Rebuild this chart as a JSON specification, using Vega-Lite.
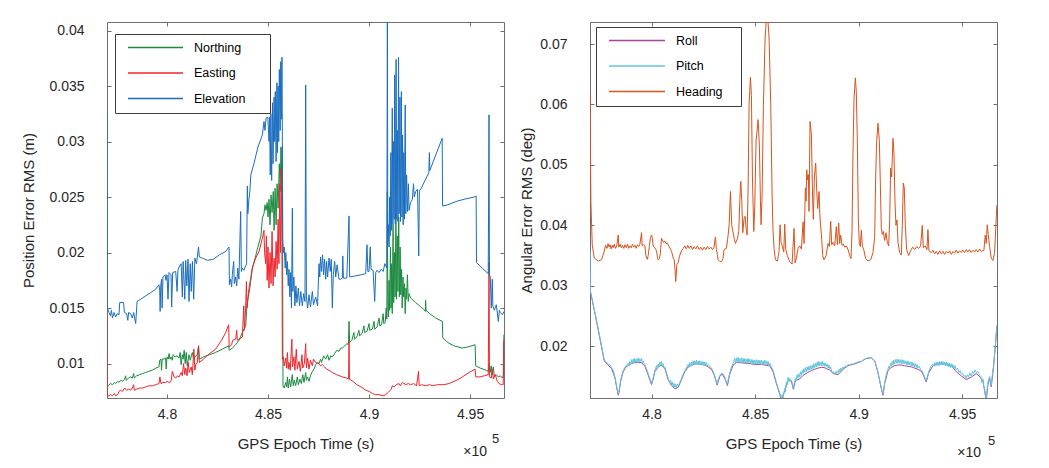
{
"$schema": "https://vega.github.io/schema/vega-lite/v6.json",
"background": "white",
"padding": {"left": 21, "top": 21, "right": 5, "bottom": 5},
"spacing": 14,
"datasets": {
"north": [
{"t":477030,"v":0.0081},{"t":477100,"v":0.0080},{"t":477200,"v":0.0082},{"t":477300,"v":0.0081},{"t":477400,"v":0.0083},{"t":477459,"v":0.0082},{"t":477550,"v":0.0084},{"t":477624,"v":0.0083},{"t":477700,"v":0.0085},{"t":477800,"v":0.0084},{"t":477900,"v":0.0086},{"t":477950,"v":0.0089},{"t":477980,"v":0.0085},{"t":478100,"v":0.0087},{"t":478200,"v":0.0088},{"t":478284,"v":0.0087},{"t":478350,"v":0.0091},{"t":478380,"v":0.0087},{"t":478500,"v":0.0089},{"t":478650,"v":0.0090},{"t":478800,"v":0.0091},{"t":478944,"v":0.0092},{"t":479100,"v":0.0093},{"t":479274,"v":0.0094},{"t":479450,"v":0.0096},{"t":479600,"v":0.0097},{"t":479640,"v":0.0103},{"t":479700,"v":0.0104},{"t":479730,"v":0.0094},{"t":479760,"v":0.0104},{"t":479850,"v":0.0104},{"t":479930,"v":0.0105},{"t":479960,"v":0.0095},{"t":480000,"v":0.0106},{"t":480060,"v":0.0104},{"t":480100,"v":0.0109},{"t":480150,"v":0.0104},{"t":480200,"v":0.0106},{"t":480264,"v":0.0103},{"t":480300,"v":0.0108},{"t":480400,"v":0.0106},{"t":480500,"v":0.0107},{"t":480594,"v":0.0105},{"t":480650,"v":0.0110},{"t":480700,"v":0.0099},{"t":480759,"v":0.0108},{"t":480800,"v":0.0104},{"t":480850,"v":0.0112},{"t":480900,"v":0.0100},{"t":480950,"v":0.0110},{"t":481000,"v":0.0098},{"t":481089,"v":0.0108},{"t":481150,"v":0.0103},{"t":481254,"v":0.0110},{"t":481320,"v":0.0104},{"t":481419,"v":0.0107},{"t":481500,"v":0.0108},{"t":481560,"v":0.0116},{"t":481600,"v":0.0104},{"t":481800,"v":0.0106},{"t":482100,"v":0.0108},{"t":482400,"v":0.0110},{"t":482739,"v":0.0113},{"t":483050,"v":0.0116},{"t":483080,"v":0.0112},{"t":483234,"v":0.0114},{"t":483399,"v":0.0117},{"t":483564,"v":0.0121},{"t":483729,"v":0.0128},{"t":483894,"v":0.0134},{"t":483950,"v":0.0150},{"t":484000,"v":0.0158},{"t":484100,"v":0.0168},{"t":484224,"v":0.0186},{"t":484389,"v":0.0197},{"t":484500,"v":0.0205},{"t":484650,"v":0.0215},{"t":484719,"v":0.0231},{"t":484800,"v":0.0235},{"t":484850,"v":0.0243},{"t":484900,"v":0.0238},{"t":484960,"v":0.0245},{"t":485000,"v":0.0232},{"t":485050,"v":0.0248},{"t":485100,"v":0.0225},{"t":485150,"v":0.0252},{"t":485200,"v":0.0236},{"t":485260,"v":0.0255},{"t":485300,"v":0.0220},{"t":485350,"v":0.0258},{"t":485400,"v":0.0225},{"t":485450,"v":0.0262},{"t":485500,"v":0.0240},{"t":485560,"v":0.0280},{"t":485600,"v":0.0255},{"t":485640,"v":0.0295},{"t":485680,"v":0.0270},{"t":485709,"v":0.0296},{"t":485740,"v":0.0080},{"t":485800,"v":0.0078},{"t":485874,"v":0.0083},{"t":485920,"v":0.0079},{"t":485960,"v":0.0088},{"t":486000,"v":0.0078},{"t":486060,"v":0.0086},{"t":486120,"v":0.0079},{"t":486200,"v":0.0090},{"t":486250,"v":0.0080},{"t":486300,"v":0.0085},{"t":486369,"v":0.0080},{"t":486450,"v":0.0088},{"t":486500,"v":0.0081},{"t":486580,"v":0.0086},{"t":486650,"v":0.0082},{"t":486720,"v":0.0090},{"t":486780,"v":0.0083},{"t":486864,"v":0.0092},{"t":486900,"v":0.0085},{"t":486960,"v":0.0088},{"t":487029,"v":0.0084},{"t":487100,"v":0.0089},{"t":487200,"v":0.0093},{"t":487300,"v":0.0096},{"t":487359,"v":0.0099},{"t":487450,"v":0.0101},{"t":487524,"v":0.0100},{"t":487600,"v":0.0104},{"t":487650,"v":0.0101},{"t":487750,"v":0.0107},{"t":487854,"v":0.0104},{"t":487950,"v":0.0108},{"t":488019,"v":0.0103},{"t":488100,"v":0.0107},{"t":488184,"v":0.0106},{"t":488300,"v":0.0109},{"t":488400,"v":0.0112},{"t":488514,"v":0.0111},{"t":488600,"v":0.0114},{"t":488679,"v":0.0114},{"t":488800,"v":0.0116},{"t":488900,"v":0.0118},{"t":488980,"v":0.0117},{"t":489009,"v":0.0138},{"t":489040,"v":0.0119},{"t":489150,"v":0.0121},{"t":489250,"v":0.0128},{"t":489280,"v":0.0122},{"t":489400,"v":0.0124},{"t":489500,"v":0.0130},{"t":489530,"v":0.0125},{"t":489650,"v":0.0127},{"t":489750,"v":0.0134},{"t":489780,"v":0.0128},{"t":489900,"v":0.0129},{"t":490000,"v":0.0136},{"t":490030,"v":0.0130},{"t":490164,"v":0.0131},{"t":490250,"v":0.0138},{"t":490280,"v":0.0131},{"t":490400,"v":0.0133},{"t":490500,"v":0.0141},{"t":490530,"v":0.0134},{"t":490620,"v":0.0135},{"t":490700,"v":0.0145},{"t":490730,"v":0.0136},{"t":490800,"v":0.0137},{"t":490850,"v":0.0150},{"t":490880,"v":0.0140},{"t":490907,"v":0.0254},{"t":490930,"v":0.0150},{"t":490960,"v":0.0142},{"t":490990,"v":0.0175},{"t":491020,"v":0.0148},{"t":491060,"v":0.0205},{"t":491090,"v":0.0150},{"t":491120,"v":0.0190},{"t":491150,"v":0.0145},{"t":491190,"v":0.0225},{"t":491220,"v":0.0155},{"t":491260,"v":0.0200},{"t":491290,"v":0.0160},{"t":491330,"v":0.0235},{"t":491360,"v":0.0158},{"t":491400,"v":0.0215},{"t":491430,"v":0.0165},{"t":491470,"v":0.0232},{"t":491500,"v":0.0160},{"t":491540,"v":0.0205},{"t":491570,"v":0.0162},{"t":491610,"v":0.0185},{"t":491640,"v":0.0150},{"t":491680,"v":0.0178},{"t":491710,"v":0.0160},{"t":491750,"v":0.0172},{"t":491790,"v":0.0145},{"t":491830,"v":0.0168},{"t":491860,"v":0.0158},{"t":491900,"v":0.0180},{"t":491940,"v":0.0156},{"t":491980,"v":0.0163},{"t":492062,"v":0.0159},{"t":492300,"v":0.0155},{"t":492500,"v":0.0152},{"t":492700,"v":0.0149},{"t":492790,"v":0.0147},{"t":492800,"v":0.0157},{"t":492820,"v":0.0148},{"t":493000,"v":0.0145},{"t":493300,"v":0.0141},{"t":493629,"v":0.0138},{"t":493650,"v":0.0123},{"t":493900,"v":0.0119},{"t":494200,"v":0.0116},{"t":494619,"v":0.0114},{"t":494900,"v":0.0115},{"t":495250,"v":0.0117},{"t":495280,"v":0.0098},{"t":495500,"v":0.0096},{"t":495800,"v":0.0094},{"t":495900,"v":0.0093},{"t":495950,"v":0.0100},{"t":496000,"v":0.0092},{"t":496050,"v":0.0098},{"t":496100,"v":0.0090},{"t":496150,"v":0.0097},{"t":496200,"v":0.0089},{"t":496300,"v":0.0090},{"t":496400,"v":0.0088},{"t":496500,"v":0.0089},{"t":496599,"v":0.0087},{"t":496650,"v":0.0089},{"t":496675,"v":0.0126}
],
"east": [
{"t":477030,"v":0.0143},{"t":477045,"v":0.0071},{"t":477129,"v":0.0071},{"t":477200,"v":0.0072},{"t":477300,"v":0.0071},{"t":477400,"v":0.0073},{"t":477459,"v":0.0071},{"t":477560,"v":0.0072},{"t":477624,"v":0.0075},{"t":477700,"v":0.0076},{"t":477800,"v":0.0075},{"t":477900,"v":0.0078},{"t":478000,"v":0.0076},{"t":478100,"v":0.0077},{"t":478200,"v":0.0076},{"t":478284,"v":0.0078},{"t":478350,"v":0.0081},{"t":478380,"v":0.0076},{"t":478500,"v":0.0077},{"t":478650,"v":0.0078},{"t":478800,"v":0.0078},{"t":478944,"v":0.0079},{"t":479100,"v":0.0080},{"t":479274,"v":0.0080},{"t":479439,"v":0.0081},{"t":479604,"v":0.0082},{"t":479650,"v":0.0088},{"t":479700,"v":0.0082},{"t":479800,"v":0.0083},{"t":479934,"v":0.0083},{"t":480000,"v":0.0084},{"t":480099,"v":0.0083},{"t":480200,"v":0.0084},{"t":480264,"v":0.0093},{"t":480350,"v":0.0088},{"t":480429,"v":0.0087},{"t":480520,"v":0.0089},{"t":480594,"v":0.0088},{"t":480700,"v":0.0092},{"t":480759,"v":0.0089},{"t":480820,"v":0.0100},{"t":480880,"v":0.0090},{"t":480924,"v":0.0096},{"t":480990,"v":0.0089},{"t":481050,"v":0.0101},{"t":481100,"v":0.0092},{"t":481200,"v":0.0097},{"t":481254,"v":0.0090},{"t":481330,"v":0.0113},{"t":481380,"v":0.0094},{"t":481419,"v":0.0099},{"t":481500,"v":0.0101},{"t":481560,"v":0.0116},{"t":481600,"v":0.0101},{"t":481800,"v":0.0104},{"t":482100,"v":0.0109},{"t":482409,"v":0.0113},{"t":482700,"v":0.0121},{"t":482904,"v":0.0128},{"t":483050,"v":0.0135},{"t":483080,"v":0.0115},{"t":483200,"v":0.0117},{"t":483250,"v":0.0121},{"t":483400,"v":0.0122},{"t":483450,"v":0.0130},{"t":483480,"v":0.0121},{"t":483600,"v":0.0122},{"t":483729,"v":0.0124},{"t":483800,"v":0.0152},{"t":483830,"v":0.0130},{"t":483894,"v":0.0151},{"t":483930,"v":0.0174},{"t":483960,"v":0.0150},{"t":484059,"v":0.0168},{"t":484224,"v":0.0186},{"t":484389,"v":0.0195},{"t":484554,"v":0.0201},{"t":484719,"v":0.0213},{"t":484800,"v":0.0220},{"t":484830,"v":0.0200},{"t":484884,"v":0.0190},{"t":484920,"v":0.0215},{"t":484960,"v":0.0175},{"t":485000,"v":0.0205},{"t":485049,"v":0.0168},{"t":485100,"v":0.0200},{"t":485150,"v":0.0172},{"t":485200,"v":0.0219},{"t":485250,"v":0.0170},{"t":485300,"v":0.0195},{"t":485350,"v":0.0178},{"t":485400,"v":0.0210},{"t":485450,"v":0.0185},{"t":485500,"v":0.0230},{"t":485540,"v":0.0190},{"t":485580,"v":0.0262},{"t":485620,"v":0.0200},{"t":485660,"v":0.0276},{"t":485690,"v":0.0210},{"t":485709,"v":0.0104},{"t":485760,"v":0.0106},{"t":485800,"v":0.0098},{"t":485874,"v":0.0105},{"t":485920,"v":0.0096},{"t":485960,"v":0.0110},{"t":486000,"v":0.0095},{"t":486039,"v":0.0101},{"t":486100,"v":0.0094},{"t":486180,"v":0.0122},{"t":486210,"v":0.0097},{"t":486280,"v":0.0106},{"t":486330,"v":0.0094},{"t":486400,"v":0.0113},{"t":486450,"v":0.0095},{"t":486534,"v":0.0102},{"t":486600,"v":0.0093},{"t":486680,"v":0.0108},{"t":486720,"v":0.0096},{"t":486800,"v":0.0100},{"t":486864,"v":0.0118},{"t":486900,"v":0.0096},{"t":486960,"v":0.0105},{"t":487029,"v":0.0095},{"t":487100,"v":0.0103},{"t":487194,"v":0.0098},{"t":487250,"v":0.0104},{"t":487359,"v":0.0101},{"t":487450,"v":0.0100},{"t":487524,"v":0.0100},{"t":487600,"v":0.0098},{"t":487689,"v":0.0099},{"t":487800,"v":0.0097},{"t":487900,"v":0.0095},{"t":488019,"v":0.0094},{"t":488184,"v":0.0092},{"t":488400,"v":0.0090},{"t":488679,"v":0.0088},{"t":488900,"v":0.0087},{"t":488990,"v":0.0086},{"t":489009,"v":0.0120},{"t":489030,"v":0.0086},{"t":489200,"v":0.0084},{"t":489400,"v":0.0081},{"t":489600,"v":0.0079},{"t":489834,"v":0.0076},{"t":490000,"v":0.0075},{"t":490164,"v":0.0073},{"t":490329,"v":0.0072},{"t":490500,"v":0.0072},{"t":490700,"v":0.0071},{"t":490824,"v":0.0072},{"t":490950,"v":0.0074},{"t":491100,"v":0.0077},{"t":491150,"v":0.0080},{"t":491250,"v":0.0079},{"t":491350,"v":0.0081},{"t":491484,"v":0.0082},{"t":491550,"v":0.0080},{"t":491650,"v":0.0083},{"t":491814,"v":0.0081},{"t":491950,"v":0.0082},{"t":492062,"v":0.0081},{"t":492200,"v":0.0082},{"t":492350,"v":0.0080},{"t":492450,"v":0.0093},{"t":492480,"v":0.0080},{"t":492600,"v":0.0081},{"t":492800,"v":0.0080},{"t":493000,"v":0.0081},{"t":493134,"v":0.0080},{"t":493400,"v":0.0081},{"t":493700,"v":0.0081},{"t":493959,"v":0.0082},{"t":494200,"v":0.0084},{"t":494450,"v":0.0086},{"t":494700,"v":0.0089},{"t":494950,"v":0.0092},{"t":495250,"v":0.0095},{"t":495280,"v":0.0088},{"t":495500,"v":0.0088},{"t":495700,"v":0.0089},{"t":495900,"v":0.0090},{"t":495939,"v":0.0191},{"t":495960,"v":0.0088},{"t":496050,"v":0.0087},{"t":496100,"v":0.0095},{"t":496150,"v":0.0086},{"t":496250,"v":0.0090},{"t":496350,"v":0.0084},{"t":496434,"v":0.0082},{"t":496550,"v":0.0081},{"t":496640,"v":0.0081},{"t":496670,"v":0.0121}
],
"elev": [
{"t":477030,"v":0.0325},{"t":477045,"v":0.0150},{"t":477129,"v":0.0146},{"t":477200,"v":0.0143},{"t":477250,"v":0.0148},{"t":477300,"v":0.0141},{"t":477380,"v":0.0146},{"t":477459,"v":0.0142},{"t":477540,"v":0.0145},{"t":477624,"v":0.0144},{"t":477660,"v":0.0155},{"t":477850,"v":0.0155},{"t":477890,"v":0.0146},{"t":478000,"v":0.0145},{"t":478060,"v":0.0139},{"t":478100,"v":0.0146},{"t":478200,"v":0.0145},{"t":478284,"v":0.0141},{"t":478350,"v":0.0146},{"t":478450,"v":0.0136},{"t":478520,"v":0.0156},{"t":478700,"v":0.0158},{"t":478944,"v":0.0161},{"t":479200,"v":0.0164},{"t":479440,"v":0.0167},{"t":479600,"v":0.0171},{"t":479640,"v":0.0166},{"t":479660,"v":0.0147},{"t":479690,"v":0.0170},{"t":479730,"v":0.0176},{"t":479760,"v":0.0150},{"t":479800,"v":0.0178},{"t":479900,"v":0.0180},{"t":479950,"v":0.0175},{"t":480000,"v":0.0180},{"t":480050,"v":0.0158},{"t":480100,"v":0.0182},{"t":480200,"v":0.0180},{"t":480230,"v":0.0151},{"t":480280,"v":0.0182},{"t":480430,"v":0.0183},{"t":480500,"v":0.0165},{"t":480540,"v":0.0184},{"t":480600,"v":0.0187},{"t":480700,"v":0.0190},{"t":480759,"v":0.0160},{"t":480800,"v":0.0192},{"t":480880,"v":0.0158},{"t":480924,"v":0.0193},{"t":480980,"v":0.0170},{"t":481040,"v":0.0194},{"t":481090,"v":0.0156},{"t":481150,"v":0.0190},{"t":481200,"v":0.0165},{"t":481260,"v":0.0192},{"t":481320,"v":0.0158},{"t":481380,"v":0.0195},{"t":481460,"v":0.0190},{"t":481560,"v":0.0205},{"t":481600,"v":0.0196},{"t":481750,"v":0.0195},{"t":482000,"v":0.0193},{"t":482300,"v":0.0194},{"t":482600,"v":0.0198},{"t":482900,"v":0.0201},{"t":483069,"v":0.0205},{"t":483090,"v":0.0171},{"t":483150,"v":0.0176},{"t":483200,"v":0.0169},{"t":483234,"v":0.0180},{"t":483300,"v":0.0192},{"t":483330,"v":0.0172},{"t":483399,"v":0.0178},{"t":483450,"v":0.0170},{"t":483500,"v":0.0186},{"t":483560,"v":0.0176},{"t":483646,"v":0.0237},{"t":483680,"v":0.0183},{"t":483729,"v":0.0186},{"t":483800,"v":0.0184},{"t":483894,"v":0.0188},{"t":483940,"v":0.0190},{"t":483976,"v":0.0260},{"t":484000,"v":0.0235},{"t":484060,"v":0.0249},{"t":484100,"v":0.0255},{"t":484150,"v":0.0270},{"t":484300,"v":0.0280},{"t":484500,"v":0.0295},{"t":484719,"v":0.0306},{"t":484800,"v":0.0318},{"t":484850,"v":0.0310},{"t":484900,"v":0.0321},{"t":484990,"v":0.0322},{"t":485050,"v":0.0300},{"t":485080,"v":0.0322},{"t":485110,"v":0.0270},{"t":485140,"v":0.0325},{"t":485180,"v":0.0265},{"t":485220,"v":0.0335},{"t":485250,"v":0.0280},{"t":485300,"v":0.0340},{"t":485330,"v":0.0300},{"t":485360,"v":0.0345},{"t":485400,"v":0.0282},{"t":485440,"v":0.0353},{"t":485470,"v":0.0290},{"t":485500,"v":0.0350},{"t":485530,"v":0.0300},{"t":485560,"v":0.0365},{"t":485600,"v":0.0310},{"t":485630,"v":0.0372},{"t":485660,"v":0.0320},{"t":485690,"v":0.0376},{"t":485710,"v":0.0300},{"t":485730,"v":0.0210},{"t":485770,"v":0.0200},{"t":485800,"v":0.0205},{"t":485850,"v":0.0186},{"t":485880,"v":0.0200},{"t":485920,"v":0.0180},{"t":485960,"v":0.0192},{"t":486000,"v":0.0170},{"t":486039,"v":0.0185},{"t":486080,"v":0.0160},{"t":486120,"v":0.0182},{"t":486160,"v":0.0150},{"t":486204,"v":0.0240},{"t":486230,"v":0.0165},{"t":486280,"v":0.0178},{"t":486330,"v":0.0152},{"t":486380,"v":0.0170},{"t":486430,"v":0.0155},{"t":486500,"v":0.0168},{"t":486560,"v":0.0152},{"t":486620,"v":0.0165},{"t":486699,"v":0.0152},{"t":486760,"v":0.0163},{"t":486830,"v":0.0156},{"t":486864,"v":0.0351},{"t":486900,"v":0.0160},{"t":486960,"v":0.0150},{"t":487029,"v":0.0162},{"t":487100,"v":0.0151},{"t":487194,"v":0.0165},{"t":487250,"v":0.0153},{"t":487359,"v":0.0160},{"t":487450,"v":0.0152},{"t":487524,"v":0.0190},{"t":487560,"v":0.0178},{"t":487600,"v":0.0196},{"t":487650,"v":0.0183},{"t":487700,"v":0.0198},{"t":487750,"v":0.0180},{"t":487800,"v":0.0194},{"t":487854,"v":0.0176},{"t":487900,"v":0.0192},{"t":487950,"v":0.0178},{"t":488019,"v":0.0195},{"t":488080,"v":0.0183},{"t":488130,"v":0.0194},{"t":488184,"v":0.0150},{"t":488230,"v":0.0180},{"t":488300,"v":0.0192},{"t":488349,"v":0.0178},{"t":488420,"v":0.0189},{"t":488514,"v":0.0176},{"t":488600,"v":0.0176},{"t":488679,"v":0.0177},{"t":488700,"v":0.0197},{"t":488730,"v":0.0177},{"t":488900,"v":0.0177},{"t":489009,"v":0.0233},{"t":489040,"v":0.0178},{"t":489339,"v":0.0179},{"t":489600,"v":0.0180},{"t":489834,"v":0.0181},{"t":489900,"v":0.0207},{"t":489940,"v":0.0183},{"t":490000,"v":0.0183},{"t":490060,"v":0.0205},{"t":490100,"v":0.0185},{"t":490200,"v":0.0184},{"t":490280,"v":0.0156},{"t":490330,"v":0.0182},{"t":490400,"v":0.0184},{"t":490494,"v":0.0182},{"t":490600,"v":0.0185},{"t":490700,"v":0.0183},{"t":490780,"v":0.0190},{"t":490880,"v":0.0186},{"t":490907,"v":0.0409},{"t":490930,"v":0.0210},{"t":490960,"v":0.0225},{"t":490990,"v":0.0205},{"t":491020,"v":0.0250},{"t":491050,"v":0.0215},{"t":491080,"v":0.0290},{"t":491110,"v":0.0220},{"t":491150,"v":0.0330},{"t":491180,"v":0.0225},{"t":491210,"v":0.0300},{"t":491240,"v":0.0230},{"t":491270,"v":0.0360},{"t":491300,"v":0.0226},{"t":491340,"v":0.0374},{"t":491370,"v":0.0230},{"t":491400,"v":0.0310},{"t":491430,"v":0.0228},{"t":491460,"v":0.0376},{"t":491490,"v":0.0235},{"t":491530,"v":0.0340},{"t":491560,"v":0.0228},{"t":491600,"v":0.0345},{"t":491630,"v":0.0232},{"t":491660,"v":0.0306},{"t":491690,"v":0.0225},{"t":491720,"v":0.0290},{"t":491750,"v":0.0230},{"t":491790,"v":0.0333},{"t":491820,"v":0.0235},{"t":491860,"v":0.0270},{"t":491900,"v":0.0237},{"t":491950,"v":0.0262},{"t":491980,"v":0.0238},{"t":492050,"v":0.0245},{"t":492144,"v":0.0248},{"t":492200,"v":0.0262},{"t":492240,"v":0.0250},{"t":492309,"v":0.0255},{"t":492400,"v":0.0257},{"t":492460,"v":0.0197},{"t":492490,"v":0.0256},{"t":492560,"v":0.0257},{"t":492960,"v":0.0272},{"t":492986,"v":0.0290},{"t":493010,"v":0.0274},{"t":493620,"v":0.0303},{"t":493640,"v":0.0242},{"t":493900,"v":0.0243},{"t":494300,"v":0.0246},{"t":494700,"v":0.0248},{"t":495200,"v":0.0250},{"t":495300,"v":0.0251},{"t":495320,"v":0.0191},{"t":495600,"v":0.0186},{"t":495900,"v":0.0181},{"t":495939,"v":0.0324},{"t":495960,"v":0.0180},{"t":496000,"v":0.0178},{"t":496050,"v":0.0150},{"t":496100,"v":0.0176},{"t":496130,"v":0.0152},{"t":496200,"v":0.0148},{"t":496300,"v":0.0153},{"t":496400,"v":0.0138},{"t":496450,"v":0.0148},{"t":496500,"v":0.0146},{"t":496600,"v":0.0144},{"t":496680,"v":0.0147}
],
"roll": [
{"t":477030,"v":0.0290},{"t":477073,"v":0.0287},{"t":477400,"v":0.0232},{"t":477717,"v":0.0176},{"t":477878,"v":0.0170},{"t":478070,"v":0.0163},{"t":478231,"v":0.0148},{"t":478312,"v":0.0133},{"t":478392,"v":0.0119},{"t":478440,"v":0.0126},{"t":478521,"v":0.0144},{"t":478633,"v":0.0158},{"t":478746,"v":0.0165},{"t":478874,"v":0.0168},{"t":479035,"v":0.0172},{"t":479196,"v":0.0173},{"t":479357,"v":0.0173},{"t":479518,"v":0.0173},{"t":479678,"v":0.0167},{"t":479807,"v":0.0156},{"t":479920,"v":0.0144},{"t":480000,"v":0.0137},{"t":480080,"v":0.0146},{"t":480161,"v":0.0158},{"t":480322,"v":0.0166},{"t":480482,"v":0.0169},{"t":480643,"v":0.0163},{"t":480804,"v":0.0145},{"t":480965,"v":0.0135},{"t":481126,"v":0.0130},{"t":481286,"v":0.0132},{"t":481447,"v":0.0145},{"t":481608,"v":0.0158},{"t":481769,"v":0.0166},{"t":481930,"v":0.0169},{"t":482090,"v":0.0171},{"t":482251,"v":0.0171},{"t":482412,"v":0.0170},{"t":482572,"v":0.0169},{"t":482734,"v":0.0166},{"t":482894,"v":0.0162},{"t":483023,"v":0.0153},{"t":483168,"v":0.0136},{"t":483296,"v":0.0150},{"t":483409,"v":0.0154},{"t":483538,"v":0.0147},{"t":483666,"v":0.0135},{"t":483779,"v":0.0154},{"t":483940,"v":0.0169},{"t":484100,"v":0.0173},{"t":484342,"v":0.0173},{"t":484502,"v":0.0172},{"t":484663,"v":0.0172},{"t":484824,"v":0.0171},{"t":484985,"v":0.0170},{"t":485146,"v":0.0170},{"t":485306,"v":0.0170},{"t":485467,"v":0.0169},{"t":485628,"v":0.0168},{"t":485708,"v":0.0168},{"t":485869,"v":0.0158},{"t":486030,"v":0.0138},{"t":486191,"v":0.0121},{"t":486271,"v":0.0110},{"t":486432,"v":0.0127},{"t":486593,"v":0.0144},{"t":486754,"v":0.0142},{"t":486850,"v":0.0129},{"t":486947,"v":0.0143},{"t":487156,"v":0.0146},{"t":487316,"v":0.0152},{"t":487557,"v":0.0157},{"t":487718,"v":0.0160},{"t":487879,"v":0.0162},{"t":488040,"v":0.0164},{"t":488201,"v":0.0165},{"t":488329,"v":0.0165},{"t":488442,"v":0.0163},{"t":488603,"v":0.0161},{"t":488764,"v":0.0155},{"t":489005,"v":0.0153},{"t":489246,"v":0.0162},{"t":489487,"v":0.0168},{"t":489809,"v":0.0171},{"t":490130,"v":0.0175},{"t":490371,"v":0.0180},{"t":490612,"v":0.0181},{"t":490774,"v":0.0176},{"t":490934,"v":0.0156},{"t":491095,"v":0.0130},{"t":491175,"v":0.0119},{"t":491256,"v":0.0138},{"t":491417,"v":0.0160},{"t":491578,"v":0.0165},{"t":491738,"v":0.0168},{"t":491899,"v":0.0169},{"t":492060,"v":0.0169},{"t":492220,"v":0.0168},{"t":492381,"v":0.0167},{"t":492542,"v":0.0166},{"t":492703,"v":0.0164},{"t":492864,"v":0.0162},{"t":492992,"v":0.0160},{"t":493105,"v":0.0154},{"t":493266,"v":0.0141},{"t":493379,"v":0.0156},{"t":493588,"v":0.0168},{"t":493829,"v":0.0171},{"t":494150,"v":0.0171},{"t":494472,"v":0.0168},{"t":494713,"v":0.0158},{"t":494954,"v":0.0151},{"t":495196,"v":0.0145},{"t":495437,"v":0.0149},{"t":495678,"v":0.0155},{"t":495839,"v":0.0150},{"t":496000,"v":0.0143},{"t":496080,"v":0.0127},{"t":496160,"v":0.0110},{"t":496241,"v":0.0137},{"t":496321,"v":0.0148},{"t":496402,"v":0.0133},{"t":496514,"v":0.0166},{"t":496595,"v":0.0198},{"t":496675,"v":0.0233}
],
"pitch": [
{"t":477030,"v":0.0358},{"t":477050,"v":0.0290},{"t":477073,"v":0.0288},{"t":477400,"v":0.0234},{"t":477717,"v":0.0178},{"t":477781,"v":0.0174},{"t":477878,"v":0.0172},{"t":477990,"v":0.0169},{"t":478070,"v":0.0165},{"t":478151,"v":0.0160},{"t":478231,"v":0.0150},{"t":478312,"v":0.0135},{"t":478392,"v":0.0121},{"t":478440,"v":0.0128},{"t":478521,"v":0.0146},{"t":478633,"v":0.0160},{"t":478746,"v":0.0167},{"t":478874,"v":0.0172},{"t":478915,"v":0.0167},{"t":478955,"v":0.0175},{"t":478995,"v":0.0170},{"t":479035,"v":0.0178},{"t":479075,"v":0.0172},{"t":479116,"v":0.0179},{"t":479156,"v":0.0173},{"t":479196,"v":0.0180},{"t":479236,"v":0.0174},{"t":479276,"v":0.0179},{"t":479316,"v":0.0173},{"t":479357,"v":0.0181},{"t":479397,"v":0.0174},{"t":479437,"v":0.0179},{"t":479477,"v":0.0175},{"t":479518,"v":0.0180},{"t":479560,"v":0.0173},{"t":479598,"v":0.0176},{"t":479640,"v":0.0171},{"t":479678,"v":0.0170},{"t":479807,"v":0.0158},{"t":479920,"v":0.0146},{"t":480000,"v":0.0139},{"t":480080,"v":0.0148},{"t":480161,"v":0.0160},{"t":480241,"v":0.0168},{"t":480282,"v":0.0163},{"t":480322,"v":0.0171},{"t":480362,"v":0.0166},{"t":480402,"v":0.0174},{"t":480442,"v":0.0168},{"t":480482,"v":0.0175},{"t":480522,"v":0.0167},{"t":480563,"v":0.0171},{"t":480603,"v":0.0164},{"t":480643,"v":0.0166},{"t":480724,"v":0.0156},{"t":480804,"v":0.0147},{"t":480844,"v":0.0143},{"t":480884,"v":0.0140},{"t":480924,"v":0.0144},{"t":480965,"v":0.0136},{"t":481005,"v":0.0141},{"t":481045,"v":0.0133},{"t":481085,"v":0.0139},{"t":481126,"v":0.0132},{"t":481166,"v":0.0137},{"t":481206,"v":0.0131},{"t":481246,"v":0.0138},{"t":481286,"v":0.0134},{"t":481367,"v":0.0140},{"t":481447,"v":0.0147},{"t":481608,"v":0.0160},{"t":481689,"v":0.0165},{"t":481769,"v":0.0170},{"t":481810,"v":0.0165},{"t":481850,"v":0.0173},{"t":481890,"v":0.0167},{"t":481930,"v":0.0174},{"t":481970,"v":0.0168},{"t":482010,"v":0.0176},{"t":482050,"v":0.0170},{"t":482090,"v":0.0176},{"t":482130,"v":0.0170},{"t":482170,"v":0.0177},{"t":482210,"v":0.0170},{"t":482251,"v":0.0176},{"t":482291,"v":0.0170},{"t":482332,"v":0.0176},{"t":482372,"v":0.0169},{"t":482412,"v":0.0175},{"t":482452,"v":0.0169},{"t":482492,"v":0.0175},{"t":482532,"v":0.0169},{"t":482572,"v":0.0174},{"t":482613,"v":0.0168},{"t":482653,"v":0.0173},{"t":482694,"v":0.0167},{"t":482734,"v":0.0170},{"t":482814,"v":0.0167},{"t":482894,"v":0.0164},{"t":483023,"v":0.0155},{"t":483100,"v":0.0145},{"t":483168,"v":0.0138},{"t":483230,"v":0.0146},{"t":483296,"v":0.0152},{"t":483409,"v":0.0156},{"t":483470,"v":0.0154},{"t":483538,"v":0.0149},{"t":483600,"v":0.0142},{"t":483666,"v":0.0137},{"t":483720,"v":0.0148},{"t":483779,"v":0.0156},{"t":483860,"v":0.0166},{"t":483940,"v":0.0172},{"t":484020,"v":0.0180},{"t":484060,"v":0.0172},{"t":484100,"v":0.0181},{"t":484140,"v":0.0173},{"t":484181,"v":0.0182},{"t":484220,"v":0.0173},{"t":484260,"v":0.0180},{"t":484300,"v":0.0172},{"t":484342,"v":0.0181},{"t":484380,"v":0.0174},{"t":484420,"v":0.0180},{"t":484460,"v":0.0172},{"t":484502,"v":0.0180},{"t":484540,"v":0.0173},{"t":484580,"v":0.0179},{"t":484620,"v":0.0172},{"t":484663,"v":0.0180},{"t":484700,"v":0.0173},{"t":484740,"v":0.0179},{"t":484780,"v":0.0172},{"t":484824,"v":0.0178},{"t":484860,"v":0.0171},{"t":484900,"v":0.0178},{"t":484940,"v":0.0171},{"t":484985,"v":0.0177},{"t":485020,"v":0.0171},{"t":485060,"v":0.0178},{"t":485100,"v":0.0171},{"t":485146,"v":0.0177},{"t":485190,"v":0.0171},{"t":485230,"v":0.0177},{"t":485270,"v":0.0170},{"t":485306,"v":0.0177},{"t":485350,"v":0.0170},{"t":485390,"v":0.0176},{"t":485430,"v":0.0170},{"t":485467,"v":0.0177},{"t":485510,"v":0.0170},{"t":485550,"v":0.0176},{"t":485590,"v":0.0169},{"t":485628,"v":0.0175},{"t":485670,"v":0.0168},{"t":485708,"v":0.0172},{"t":485790,"v":0.0166},{"t":485869,"v":0.0160},{"t":485950,"v":0.0150},{"t":486030,"v":0.0140},{"t":486110,"v":0.0131},{"t":486191,"v":0.0123},{"t":486230,"v":0.0118},{"t":486271,"v":0.0112},{"t":486300,"v":0.0120},{"t":486350,"v":0.0115},{"t":486432,"v":0.0130},{"t":486470,"v":0.0125},{"t":486510,"v":0.0141},{"t":486550,"v":0.0136},{"t":486593,"v":0.0149},{"t":486640,"v":0.0142},{"t":486680,"v":0.0147},{"t":486754,"v":0.0144},{"t":486850,"v":0.0131},{"t":486900,"v":0.0140},{"t":486947,"v":0.0147},{"t":486990,"v":0.0143},{"t":487030,"v":0.0153},{"t":487075,"v":0.0147},{"t":487115,"v":0.0155},{"t":487156,"v":0.0149},{"t":487200,"v":0.0158},{"t":487240,"v":0.0152},{"t":487280,"v":0.0160},{"t":487316,"v":0.0155},{"t":487360,"v":0.0163},{"t":487400,"v":0.0157},{"t":487440,"v":0.0165},{"t":487480,"v":0.0158},{"t":487520,"v":0.0166},{"t":487557,"v":0.0160},{"t":487600,"v":0.0167},{"t":487640,"v":0.0161},{"t":487680,"v":0.0168},{"t":487718,"v":0.0162},{"t":487760,"v":0.0169},{"t":487800,"v":0.0163},{"t":487840,"v":0.0171},{"t":487879,"v":0.0165},{"t":487920,"v":0.0172},{"t":487960,"v":0.0166},{"t":488000,"v":0.0174},{"t":488040,"v":0.0167},{"t":488080,"v":0.0175},{"t":488120,"v":0.0168},{"t":488160,"v":0.0174},{"t":488201,"v":0.0168},{"t":488240,"v":0.0175},{"t":488280,"v":0.0168},{"t":488329,"v":0.0173},{"t":488370,"v":0.0167},{"t":488400,"v":0.0172},{"t":488442,"v":0.0166},{"t":488490,"v":0.0171},{"t":488530,"v":0.0164},{"t":488570,"v":0.0169},{"t":488603,"v":0.0163},{"t":488650,"v":0.0166},{"t":488700,"v":0.0158},{"t":488764,"v":0.0158},{"t":488820,"v":0.0154},{"t":488876,"v":0.0158},{"t":488920,"v":0.0154},{"t":488960,"v":0.0159},{"t":489005,"v":0.0156},{"t":489060,"v":0.0162},{"t":489100,"v":0.0158},{"t":489133,"v":0.0164},{"t":489190,"v":0.0160},{"t":489246,"v":0.0166},{"t":489300,"v":0.0163},{"t":489358,"v":0.0168},{"t":489420,"v":0.0166},{"t":489487,"v":0.0170},{"t":489560,"v":0.0168},{"t":489648,"v":0.0171},{"t":489720,"v":0.0170},{"t":489809,"v":0.0172},{"t":489890,"v":0.0173},{"t":489970,"v":0.0174},{"t":490130,"v":0.0175},{"t":490250,"v":0.0178},{"t":490371,"v":0.0180},{"t":490500,"v":0.0181},{"t":490612,"v":0.0181},{"t":490700,"v":0.0179},{"t":490774,"v":0.0176},{"t":490850,"v":0.0168},{"t":490934,"v":0.0157},{"t":491015,"v":0.0144},{"t":491095,"v":0.0131},{"t":491140,"v":0.0124},{"t":491175,"v":0.0121},{"t":491215,"v":0.0128},{"t":491256,"v":0.0140},{"t":491337,"v":0.0154},{"t":491417,"v":0.0162},{"t":491460,"v":0.0167},{"t":491500,"v":0.0164},{"t":491540,"v":0.0172},{"t":491578,"v":0.0167},{"t":491620,"v":0.0175},{"t":491660,"v":0.0169},{"t":491700,"v":0.0177},{"t":491738,"v":0.0171},{"t":491780,"v":0.0178},{"t":491820,"v":0.0172},{"t":491860,"v":0.0179},{"t":491899,"v":0.0172},{"t":491940,"v":0.0178},{"t":491980,"v":0.0172},{"t":492020,"v":0.0178},{"t":492060,"v":0.0171},{"t":492100,"v":0.0178},{"t":492140,"v":0.0171},{"t":492180,"v":0.0177},{"t":492220,"v":0.0171},{"t":492260,"v":0.0176},{"t":492300,"v":0.0170},{"t":492340,"v":0.0176},{"t":492381,"v":0.0169},{"t":492420,"v":0.0175},{"t":492460,"v":0.0169},{"t":492500,"v":0.0174},{"t":492542,"v":0.0168},{"t":492580,"v":0.0174},{"t":492620,"v":0.0167},{"t":492660,"v":0.0172},{"t":492703,"v":0.0166},{"t":492740,"v":0.0171},{"t":492780,"v":0.0165},{"t":492820,"v":0.0170},{"t":492864,"v":0.0164},{"t":492920,"v":0.0167},{"t":492992,"v":0.0162},{"t":493050,"v":0.0160},{"t":493105,"v":0.0156},{"t":493180,"v":0.0150},{"t":493266,"v":0.0143},{"t":493320,"v":0.0150},{"t":493379,"v":0.0158},{"t":493450,"v":0.0164},{"t":493500,"v":0.0168},{"t":493588,"v":0.0171},{"t":493630,"v":0.0167},{"t":493670,"v":0.0173},{"t":493710,"v":0.0168},{"t":493748,"v":0.0174},{"t":493790,"v":0.0168},{"t":493829,"v":0.0174},{"t":493870,"v":0.0168},{"t":493910,"v":0.0175},{"t":493950,"v":0.0169},{"t":493990,"v":0.0175},{"t":494030,"v":0.0169},{"t":494070,"v":0.0175},{"t":494110,"v":0.0169},{"t":494150,"v":0.0174},{"t":494190,"v":0.0168},{"t":494230,"v":0.0174},{"t":494270,"v":0.0167},{"t":494311,"v":0.0173},{"t":494350,"v":0.0166},{"t":494390,"v":0.0172},{"t":494430,"v":0.0165},{"t":494472,"v":0.0171},{"t":494510,"v":0.0165},{"t":494550,"v":0.0170},{"t":494601,"v":0.0163},{"t":494650,"v":0.0168},{"t":494713,"v":0.0161},{"t":494770,"v":0.0164},{"t":494842,"v":0.0157},{"t":494900,"v":0.0160},{"t":494954,"v":0.0154},{"t":495010,"v":0.0155},{"t":495083,"v":0.0150},{"t":495140,"v":0.0152},{"t":495196,"v":0.0147},{"t":495250,"v":0.0153},{"t":495308,"v":0.0149},{"t":495370,"v":0.0156},{"t":495437,"v":0.0151},{"t":495500,"v":0.0158},{"t":495566,"v":0.0155},{"t":495620,"v":0.0161},{"t":495678,"v":0.0157},{"t":495760,"v":0.0158},{"t":495839,"v":0.0152},{"t":495900,"v":0.0150},{"t":495950,"v":0.0140},{"t":496000,"v":0.0146},{"t":496040,"v":0.0133},{"t":496080,"v":0.0129},{"t":496120,"v":0.0120},{"t":496160,"v":0.0112},{"t":496200,"v":0.0128},{"t":496241,"v":0.0140},{"t":496280,"v":0.0145},{"t":496321,"v":0.0150},{"t":496360,"v":0.0140},{"t":496402,"v":0.0135},{"t":496450,"v":0.0152},{"t":496514,"v":0.0168},{"t":496595,"v":0.0200},{"t":496675,"v":0.0235}
],
"heading": [
{"t":477030,"v":0.0619},{"t":477073,"v":0.0439},{"t":477138,"v":0.0368},{"t":477234,"v":0.0346},{"t":477427,"v":0.0341},{"t":477588,"v":0.0343},{"t":477717,"v":0.0357},{"t":477781,"v":0.0367},{"t":477850,"v":0.0362},{"t":477900,"v":0.0370},{"t":477950,"v":0.0364},{"t":478000,"v":0.0368},{"t":478050,"v":0.0361},{"t":478100,"v":0.0367},{"t":478150,"v":0.0363},{"t":478200,"v":0.0369},{"t":478260,"v":0.0362},{"t":478320,"v":0.0366},{"t":478392,"v":0.0384},{"t":478420,"v":0.0364},{"t":478480,"v":0.0369},{"t":478540,"v":0.0363},{"t":478600,"v":0.0367},{"t":478660,"v":0.0362},{"t":478720,"v":0.0368},{"t":478780,"v":0.0363},{"t":478840,"v":0.0369},{"t":478900,"v":0.0362},{"t":478960,"v":0.0366},{"t":479020,"v":0.0363},{"t":479080,"v":0.0369},{"t":479140,"v":0.0364},{"t":479200,"v":0.0367},{"t":479260,"v":0.0362},{"t":479320,"v":0.0368},{"t":479380,"v":0.0365},{"t":479440,"v":0.0369},{"t":479518,"v":0.0388},{"t":479550,"v":0.0366},{"t":479620,"v":0.0368},{"t":479678,"v":0.0367},{"t":479720,"v":0.0352},{"t":479760,"v":0.0346},{"t":479800,"v":0.0344},{"t":479839,"v":0.0350},{"t":479900,"v":0.0367},{"t":479950,"v":0.0380},{"t":480000,"v":0.0384},{"t":480030,"v":0.0381},{"t":480080,"v":0.0366},{"t":480161,"v":0.0363},{"t":480240,"v":0.0358},{"t":480300,"v":0.0345},{"t":480322,"v":0.0343},{"t":480380,"v":0.0345},{"t":480430,"v":0.0355},{"t":480482,"v":0.0379},{"t":480520,"v":0.0376},{"t":480580,"v":0.0372},{"t":480643,"v":0.0374},{"t":480700,"v":0.0370},{"t":480760,"v":0.0371},{"t":480804,"v":0.0368},{"t":480870,"v":0.0364},{"t":480965,"v":0.0357},{"t":481050,"v":0.0346},{"t":481100,"v":0.0343},{"t":481170,"v":0.0307},{"t":481220,"v":0.0335},{"t":481286,"v":0.0338},{"t":481350,"v":0.0349},{"t":481447,"v":0.0358},{"t":481530,"v":0.0362},{"t":481608,"v":0.0366},{"t":481680,"v":0.0361},{"t":481750,"v":0.0367},{"t":481820,"v":0.0362},{"t":481900,"v":0.0366},{"t":481980,"v":0.0360},{"t":482060,"v":0.0365},{"t":482140,"v":0.0361},{"t":482220,"v":0.0366},{"t":482300,"v":0.0360},{"t":482380,"v":0.0364},{"t":482460,"v":0.0359},{"t":482540,"v":0.0364},{"t":482620,"v":0.0360},{"t":482700,"v":0.0365},{"t":482780,"v":0.0361},{"t":482860,"v":0.0364},{"t":482940,"v":0.0360},{"t":483010,"v":0.0363},{"t":483087,"v":0.0381},{"t":483130,"v":0.0360},{"t":483180,"v":0.0352},{"t":483216,"v":0.0343},{"t":483300,"v":0.0340},{"t":483377,"v":0.0340},{"t":483450,"v":0.0345},{"t":483500,"v":0.0360},{"t":483618,"v":0.0362},{"t":483698,"v":0.0384},{"t":483746,"v":0.0400},{"t":483811,"v":0.0456},{"t":483875,"v":0.0400},{"t":483988,"v":0.0379},{"t":484052,"v":0.0370},{"t":484149,"v":0.0378},{"t":484213,"v":0.0390},{"t":484261,"v":0.0440},{"t":484309,"v":0.0473},{"t":484358,"v":0.0440},{"t":484406,"v":0.0388},{"t":484470,"v":0.0412},{"t":484518,"v":0.0415},{"t":484567,"v":0.0395},{"t":484615,"v":0.0384},{"t":484663,"v":0.0460},{"t":484711,"v":0.0600},{"t":484776,"v":0.0645},{"t":484824,"v":0.0615},{"t":484872,"v":0.0480},{"t":484936,"v":0.0390},{"t":484984,"v":0.0430},{"t":485049,"v":0.0540},{"t":485146,"v":0.0575},{"t":485210,"v":0.0530},{"t":485258,"v":0.0440},{"t":485290,"v":0.0401},{"t":485339,"v":0.0450},{"t":485403,"v":0.0600},{"t":485483,"v":0.0710},{"t":485548,"v":0.0742},{"t":485612,"v":0.0744},{"t":485676,"v":0.0710},{"t":485756,"v":0.0600},{"t":485821,"v":0.0450},{"t":485869,"v":0.0390},{"t":485917,"v":0.0362},{"t":485982,"v":0.0343},{"t":486078,"v":0.0341},{"t":486158,"v":0.0357},{"t":486206,"v":0.0401},{"t":486255,"v":0.0372},{"t":486319,"v":0.0365},{"t":486383,"v":0.0356},{"t":486432,"v":0.0402},{"t":486480,"v":0.0360},{"t":486560,"v":0.0350},{"t":486673,"v":0.0340},{"t":486786,"v":0.0336},{"t":486882,"v":0.0395},{"t":486930,"v":0.0338},{"t":486995,"v":0.0346},{"t":487075,"v":0.0362},{"t":487156,"v":0.0366},{"t":487236,"v":0.0361},{"t":487316,"v":0.0406},{"t":487364,"v":0.0370},{"t":487429,"v":0.0462},{"t":487461,"v":0.0440},{"t":487493,"v":0.0492},{"t":487541,"v":0.0475},{"t":487573,"v":0.0484},{"t":487605,"v":0.0423},{"t":487654,"v":0.0572},{"t":487718,"v":0.0550},{"t":487782,"v":0.0439},{"t":487814,"v":0.0410},{"t":487862,"v":0.0480},{"t":487926,"v":0.0503},{"t":487974,"v":0.0460},{"t":488023,"v":0.0428},{"t":488087,"v":0.0456},{"t":488135,"v":0.0412},{"t":488201,"v":0.0385},{"t":488265,"v":0.0350},{"t":488329,"v":0.0343},{"t":488426,"v":0.0350},{"t":488522,"v":0.0370},{"t":488587,"v":0.0365},{"t":488651,"v":0.0407},{"t":488699,"v":0.0368},{"t":488780,"v":0.0372},{"t":488844,"v":0.0366},{"t":488924,"v":0.0398},{"t":488973,"v":0.0368},{"t":489037,"v":0.0404},{"t":489085,"v":0.0370},{"t":489133,"v":0.0384},{"t":489198,"v":0.0367},{"t":489262,"v":0.0369},{"t":489326,"v":0.0364},{"t":489407,"v":0.0366},{"t":489487,"v":0.0360},{"t":489568,"v":0.0350},{"t":489632,"v":0.0345},{"t":489680,"v":0.0390},{"t":489728,"v":0.0520},{"t":489777,"v":0.0610},{"t":489841,"v":0.0644},{"t":489889,"v":0.0620},{"t":489937,"v":0.0540},{"t":489986,"v":0.0410},{"t":490034,"v":0.0370},{"t":490082,"v":0.0365},{"t":490130,"v":0.0392},{"t":490179,"v":0.0366},{"t":490259,"v":0.0358},{"t":490339,"v":0.0345},{"t":490452,"v":0.0341},{"t":490581,"v":0.0343},{"t":490693,"v":0.0355},{"t":490774,"v":0.0380},{"t":490822,"v":0.0480},{"t":490870,"v":0.0539},{"t":490934,"v":0.0569},{"t":490999,"v":0.0540},{"t":491047,"v":0.0470},{"t":491095,"v":0.0395},{"t":491143,"v":0.0385},{"t":491192,"v":0.0390},{"t":491256,"v":0.0375},{"t":491320,"v":0.0388},{"t":491384,"v":0.0372},{"t":491449,"v":0.0366},{"t":491497,"v":0.0406},{"t":491545,"v":0.0495},{"t":491594,"v":0.0480},{"t":491658,"v":0.0544},{"t":491706,"v":0.0520},{"t":491754,"v":0.0439},{"t":491802,"v":0.0400},{"t":491851,"v":0.0409},{"t":491899,"v":0.0372},{"t":491979,"v":0.0355},{"t":492060,"v":0.0351},{"t":492108,"v":0.0400},{"t":492156,"v":0.0470},{"t":492205,"v":0.0462},{"t":492253,"v":0.0400},{"t":492317,"v":0.0360},{"t":492414,"v":0.0350},{"t":492510,"v":0.0358},{"t":492607,"v":0.0364},{"t":492703,"v":0.0360},{"t":492800,"v":0.0365},{"t":492896,"v":0.0362},{"t":492992,"v":0.0366},{"t":493073,"v":0.0400},{"t":493121,"v":0.0363},{"t":493218,"v":0.0366},{"t":493298,"v":0.0360},{"t":493346,"v":0.0393},{"t":493395,"v":0.0358},{"t":493507,"v":0.0355},{"t":493588,"v":0.0359},{"t":493668,"v":0.0353},{"t":493748,"v":0.0357},{"t":493829,"v":0.0352},{"t":493910,"v":0.0358},{"t":493990,"v":0.0353},{"t":494070,"v":0.0357},{"t":494150,"v":0.0352},{"t":494230,"v":0.0357},{"t":494311,"v":0.0354},{"t":494390,"v":0.0358},{"t":494472,"v":0.0352},{"t":494550,"v":0.0357},{"t":494633,"v":0.0354},{"t":494713,"v":0.0359},{"t":494794,"v":0.0354},{"t":494870,"v":0.0358},{"t":494954,"v":0.0355},{"t":495030,"v":0.0359},{"t":495115,"v":0.0355},{"t":495196,"v":0.0360},{"t":495276,"v":0.0356},{"t":495350,"v":0.0360},{"t":495437,"v":0.0355},{"t":495520,"v":0.0359},{"t":495598,"v":0.0356},{"t":495678,"v":0.0360},{"t":495758,"v":0.0356},{"t":495839,"v":0.0361},{"t":495919,"v":0.0357},{"t":496048,"v":0.0359},{"t":496112,"v":0.0384},{"t":496160,"v":0.0370},{"t":496209,"v":0.0401},{"t":496257,"v":0.0385},{"t":496321,"v":0.0365},{"t":496402,"v":0.0346},{"t":496482,"v":0.0342},{"t":496563,"v":0.0355},{"t":496627,"v":0.0400},{"t":496675,"v":0.0434}
]
},
"hconcat": [
{
"width": 397, "height": 376,
"layer": [
{
"layer": [
{"data": {"name": "north"}, "mark": {"type": "line", "strokeWidth": 1, "clip": true},
 "encoding": {
  "x": {"field": "t", "type": "quantitative", "scale": {"domain": [477030, 496680], "nice": false, "zero": false},
        "axis": {"values": [480000, 485000, 490000, 495000], "labelExpr": "format(datum.value/100000, '.3~f')", "title": "GPS Epoch Time (s)", "labelPadding": 13, "titlePadding": 15}},
  "y": {"field": "v", "type": "quantitative", "scale": {"domain": [0.0069, 0.04077], "nice": false, "zero": false},
        "axis": {"values": [0.01, 0.015, 0.02, 0.025, 0.03, 0.035, 0.04], "format": ".3~f", "title": "Position Error RMS (m)", "labelPadding": 27, "titlePadding": 12}},
  "color": {"datum": "Northing", "type": "nominal", "scale": {"domain": ["Northing", "Easting", "Elevation"], "range": ["#1b8a3e", "#f0242c", "#1a6ec0"]},
        "legend": {"orient": "none", "legendX": 8, "legendY": 12, "title": "M", "titleOrient": "right", "titleColor": "rgba(0,0,0,0)", "titleFontSize": 10, "titlePadding": 8, "symbolType": "stroke", "symbolSize": 3025, "symbolStrokeWidth": 1.3, "symbolOffset": 4, "clipHeight": 11, "labelFont": "Liberation Sans", "labelFontSize": 12.5, "labelColor": "#000000", "labelOffset": 10, "rowPadding": 12.5, "padding": 8, "strokeColor": "#3c3c3c", "fillColor": "#ffffff"}}
 }},
{"data": {"name": "east"}, "mark": {"type": "line", "strokeWidth": 1, "clip": true},
 "encoding": {"x": {"field": "t", "type": "quantitative"}, "y": {"field": "v", "type": "quantitative"}, "color": {"datum": "Easting", "type": "nominal"}}},
{"data": {"name": "elev"}, "mark": {"type": "line", "strokeWidth": 1, "clip": true},
 "encoding": {"x": {"field": "t", "type": "quantitative"}, "y": {"field": "v", "type": "quantitative"}, "color": {"datum": "Elevation", "type": "nominal"}}},
{"data": {"values": [{}]}, "mark": {"type": "text", "text": "×10", "align": "right", "baseline": "middle", "dx": -17, "dy": 54, "fontSize": 14, "color": "#262626", "font": "Liberation Sans"},
 "encoding": {"x": {"datum": 496680, "type": "quantitative"}, "y": {"datum": 0.0069, "type": "quantitative"}}},
{"data": {"values": [{}]}, "mark": {"type": "text", "text": "5", "align": "left", "baseline": "middle", "dx": -12, "dy": 41, "fontSize": 13, "color": "#262626", "font": "Liberation Sans"},
 "encoding": {"x": {"datum": 496680, "type": "quantitative"}, "y": {"datum": 0.0069, "type": "quantitative"}}}
]
},
{
"data": {"values": [{"t": 480000, "v": 0.02}]},
"mark": {"type": "point", "opacity": 0},
"encoding": {
 "x": {"field": "t", "type": "quantitative", "scale": {"domain": [477030, 496680], "nice": false, "zero": false}, "axis": {"orient": "top", "values": [480000, 485000, 490000, 495000], "labels": false, "title": null}},
 "y": {"field": "v", "type": "quantitative", "scale": {"domain": [0.0069, 0.04077], "nice": false, "zero": false}, "axis": {"orient": "right", "values": [0.01, 0.015, 0.02, 0.025, 0.03, 0.035, 0.04], "labels": false, "title": null}}
}
}
],
"resolve": {"axis": {"x": "independent", "y": "independent"}}
},
{
"width": 407, "height": 376,
"layer": [
{
"layer": [
{"data": {"name": "roll"}, "mark": {"type": "line", "strokeWidth": 1, "clip": true},
 "encoding": {
  "x": {"field": "t", "type": "quantitative", "scale": {"domain": [477030, 496680], "nice": false, "zero": false},
        "axis": {"values": [480000, 485000, 490000, 495000], "labelExpr": "format(datum.value/100000, '.3~f')", "title": "GPS Epoch Time (s)", "labelPadding": 13, "titlePadding": 15}},
  "y": {"field": "v", "type": "quantitative", "scale": {"domain": [0.01145, 0.07364], "nice": false, "zero": false},
        "axis": {"values": [0.02, 0.03, 0.04, 0.05, 0.06, 0.07], "format": ".2~f", "title": "Angular Error RMS (deg)", "labelPadding": 27, "titlePadding": 5}},
  "color": {"datum": "Roll", "type": "nominal", "scale": {"domain": ["Roll", "Pitch", "Heading"], "range": ["#a8459f", "#5ec6dc", "#d9531e"]},
        "legend": {"orient": "none", "legendX": 6, "legendY": 5, "title": "M", "titleOrient": "right", "titleColor": "rgba(0,0,0,0)", "titleFontSize": 10, "titlePadding": 1, "symbolType": "stroke", "symbolSize": 3136, "symbolStrokeWidth": 1.3, "symbolOffset": 4, "clipHeight": 11, "labelFont": "Liberation Sans", "labelFontSize": 12.5, "labelColor": "#000000", "labelOffset": 10, "rowPadding": 12.5, "padding": 8, "strokeColor": "#3c3c3c", "fillColor": "#ffffff"}}
 }},
{"data": {"name": "pitch"}, "mark": {"type": "line", "strokeWidth": 1, "clip": true},
 "encoding": {"x": {"field": "t", "type": "quantitative"}, "y": {"field": "v", "type": "quantitative"}, "color": {"datum": "Pitch", "type": "nominal"}}},
{"data": {"name": "heading"}, "mark": {"type": "line", "strokeWidth": 1, "clip": true},
 "encoding": {"x": {"field": "t", "type": "quantitative"}, "y": {"field": "v", "type": "quantitative"}, "color": {"datum": "Heading", "type": "nominal"}}},
{"data": {"values": [{}]}, "mark": {"type": "text", "text": "×10", "align": "right", "baseline": "middle", "dx": -16, "dy": 55, "fontSize": 14, "color": "#262626", "font": "Liberation Sans"},
 "encoding": {"x": {"datum": 496680, "type": "quantitative"}, "y": {"datum": 0.01145, "type": "quantitative"}}},
{"data": {"values": [{}]}, "mark": {"type": "text", "text": "5", "align": "left", "baseline": "middle", "dx": -9, "dy": 43, "fontSize": 13, "color": "#262626", "font": "Liberation Sans"},
 "encoding": {"x": {"datum": 496680, "type": "quantitative"}, "y": {"datum": 0.01145, "type": "quantitative"}}}
]
},
{
"data": {"values": [{"t": 480000, "v": 0.03}]},
"mark": {"type": "point", "opacity": 0},
"encoding": {
 "x": {"field": "t", "type": "quantitative", "scale": {"domain": [477030, 496680], "nice": false, "zero": false}, "axis": {"orient": "top", "values": [480000, 485000, 490000, 495000], "labels": false, "title": null}},
 "y": {"field": "v", "type": "quantitative", "scale": {"domain": [0.01145, 0.07364], "nice": false, "zero": false}, "axis": {"orient": "right", "values": [0.02, 0.03, 0.04, 0.05, 0.06, 0.07], "labels": false, "title": null}}
}
}
],
"resolve": {"axis": {"x": "independent", "y": "independent"}}
}
],
"resolve": {"scale": {"color": "independent"}},
"config": {
 "font": "Liberation Sans",
 "view": {"stroke": "#6f6f6f", "strokeWidth": 1},
 "axis": {"domain": false, "grid": false, "ticks": true, "tickColor": "#6f6f6f", "tickSize": -4, "tickWidth": 1, "labelFont": "Liberation Sans", "labelFontSize": 14, "labelColor": "#262626", "titleFont": "Liberation Sans", "titleFontSize": 15, "titleFontWeight": "normal", "titleColor": "#262626", "minExtent": 0}
}
}
